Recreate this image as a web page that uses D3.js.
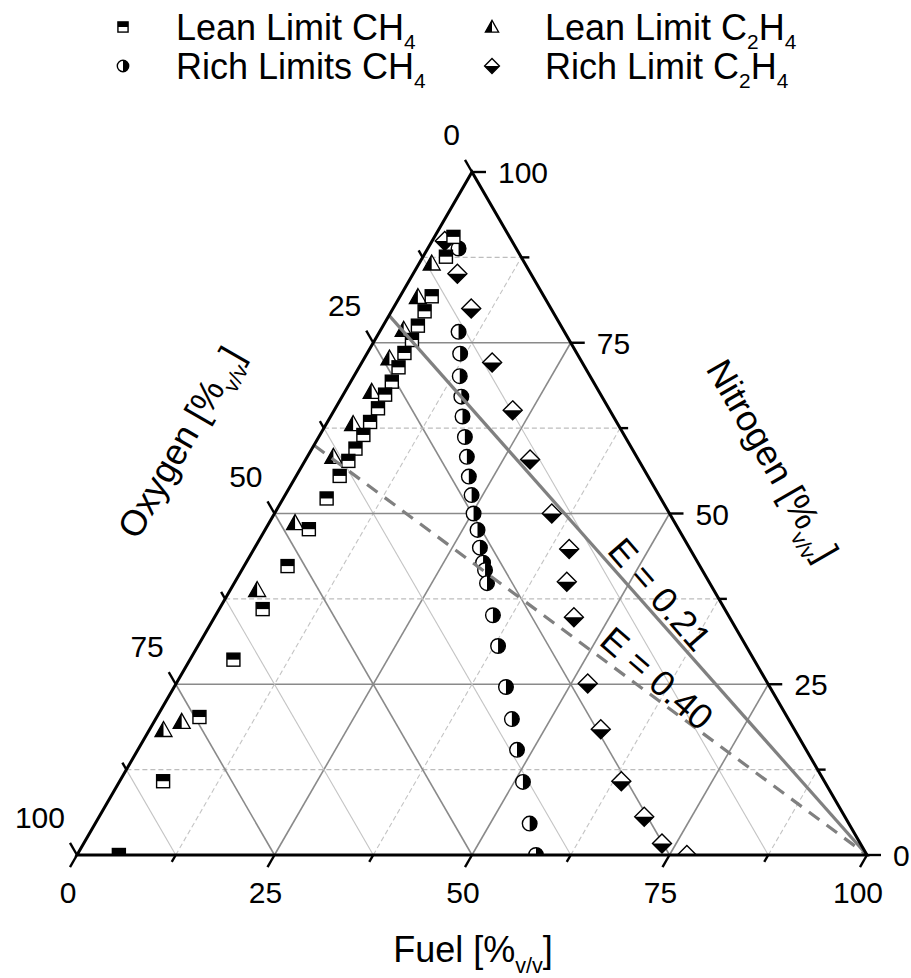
<!DOCTYPE html>
<html>
<head>
<meta charset="utf-8">
<script src="https://cdn.jsdelivr.net/npm/d3@7"></script>
<style>
  html, body { margin: 0; padding: 0; background: #fff; }
  svg { display: block; }
  text { font-family: "Liberation Sans", Arial, sans-serif; fill: #000; }
</style>
</head>
<body>
<svg id="chart" width="911" height="978"></svg>
<script>
// ---------------- data: [fuel, oxygen, nitrogen] in %v/v ----------------
const leanCH4 = [
  [2.4,7.1,90.5],[2.9,9.5,87.6],[4.0,14.2,81.8],[4.2,16.2,79.6],[4.4,18.1,77.5],
  [4.7,19.9,75.4],[4.7,21.8,73.5],[5.0,23.6,71.4],[5.2,25.5,69.3],[5.3,27.3,67.4],
  [5.4,29.2,65.4],[5.4,31.2,63.4],[5.5,33.0,61.5],[5.5,35.0,59.5],[5.5,36.8,57.7],
  [5.5,39.0,55.5],[5.5,42.3,52.2],[5.5,46.8,47.7],[5.5,52.2,42.3],[5.5,58.5,36.0],
  [5.5,65.9,28.6],[5.4,74.4,20.2],[5.5,83.7,10.8],[5.3,94.7,0]
];
const leanC2H4 = [
  [1.6,11.8,86.6],[2.3,16.0,81.7],[2.9,20.2,76.9],[3.2,24.1,72.7],[3.4,28.8,67.8],
  [3.4,33.5,63.1],[3.3,38.4,58.3],[3.3,48.1,48.6],[3.4,57.8,38.8],[3.5,77.0,19.5],
  [1.8,79.9,18.3]
];
const richCH4 = [
  [3.9,7.3,88.8],[10.0,13.4,76.6],[11.8,14.8,73.4],[13.4,16.5,70.1],[15.1,17.8,67.1],
  [16.7,19.1,64.2],[18.5,20.3,61.2],[20.2,21.5,58.3],[21.9,22.7,55.4],[23.6,23.7,52.7],
  [25.2,24.8,50.0],[26.9,25.5,47.6],[28.5,26.5,45.0],[30.0,27.2,42.8],[30.8,27.5,41.7],
  [32.0,28.2,39.8],[35.1,29.8,35.1],[38.0,31.4,30.6],[42.0,33.4,24.6],[45.1,35.0,19.9],
  [48.0,36.6,15.4],[51.1,38.2,10.7],[55.0,40.4,4.6],[58.1,41.9,0]
];
const richC2H4 = [
  [1.6,8.5,89.9],[5.6,9.3,85.1],[9.9,10.1,80.0],[16.5,11.4,72.1],[22.6,12.3,65.1],
  [28.4,13.7,57.9],[35.1,14.9,50.0],[39.9,15.3,44.8],[42.0,18.0,40.0],[45.5,19.7,34.8],
  [52.1,22.8,25.1],[57.1,24.5,18.4],[63.5,25.7,10.8],[69.0,25.4,5.6],[73.2,25.1,1.7],
  [77.2,22.8,0]
];
// equivalence-ratio lines (O2 fraction of the oxidiser)
const eLines = [
  {label: "E = 0.21", e: 0.21},
  {label: "E = 0.40", e: 0.40}
];
const fuelTicks = [0, 25, 50, 75, 100];
const oxygenTicks = [0, 25, 50, 75, 100];
const nitrogenTicks = [0, 25, 50, 75, 100];

// ---------------- scales ----------------
const svg = d3.select("#chart");
const fx = d3.scaleLinear().domain([0, 100]).range([77, 867]);   // fuel along base
const ny = d3.scaleLinear().domain([0, 100]).range([855, 172]);  // nitrogen height
function P(f, n) { return [fx(f) + (fx(n) - fx(0)) / 2, ny(n)]; }
const line = d3.line();

const BL = P(0, 0), BR = P(100, 0), TOP = P(0, 100);

// ---------------- grid ----------------
const gGrid = svg.append("g");
const allGrid = d3.range(12.5, 100, 12.5);
allGrid.forEach(v => {
  const major = v % 25 === 0;
  gGrid.append("path").attr("d", line([P(0, v), P(100 - v, v)]))
    .attr("stroke", major ? "#8a8a8a" : "#bdbdbd").attr("stroke-width", major ? 1.6 : 1.1)
    .attr("stroke-dasharray", major ? null : "5,3").attr("fill", "none");
  gGrid.append("path").attr("d", line([P(v, 0), P(v, 100 - v)]))
    .attr("stroke", major ? "#8a8a8a" : "#c4c4c4").attr("stroke-width", major ? 1.6 : 1.1)
    .attr("stroke-dasharray", major ? null : "5,3").attr("fill", "none");
  gGrid.append("path").attr("d", line([P(100 - v, 0), P(0, 100 - v)]))
    .attr("stroke", major ? "#8a8a8a" : "#c4c4c4").attr("stroke-width", major ? 1.6 : 1.1)
    .attr("fill", "none");
});

// ---------------- markers ----------------
const clip = svg.append("clipPath").attr("id", "clipPlot");
clip.append("rect").attr("x", 0).attr("y", 0).attr("width", 911).attr("height", ny(0));

function drawSquare(g, x, y, k) {
  const s = 6.5 * k;
  g.append("rect").attr("x", x - s).attr("y", y - s).attr("width", 2 * s).attr("height", 2 * s)
    .attr("fill", "#fff").attr("stroke", "#000").attr("stroke-width", 1.4);
  g.append("rect").attr("x", x - s).attr("y", y - s).attr("width", 2 * s).attr("height", s)
    .attr("fill", "#000");
}
function drawTriangle(g, x, y, k) {
  const w = 8.5 * k, t = 8.5 * k, b = 6.5 * k;
  g.append("path").attr("d", `M${x},${y - t}L${x + w},${y + b}L${x - w},${y + b}Z`)
    .attr("fill", "#fff").attr("stroke", "#000").attr("stroke-width", 1.3);
  g.append("path").attr("d", `M${x},${y - t}L${x},${y + b}L${x - w},${y + b}Z`).attr("fill", "#000");
}
function drawCircle(g, x, y, k) {
  const r = 7.3 * k;
  g.append("circle").attr("cx", x).attr("cy", y).attr("r", r)
    .attr("fill", "#fff").attr("stroke", "#000").attr("stroke-width", 1.4);
  g.append("path").attr("d", `M${x},${y - r}A${r},${r} 0 0 1 ${x},${y + r}Z`).attr("fill", "#000");
}
function drawDiamond(g, x, y, k) {
  const h = 9.5 * k;
  g.append("path").attr("d", `M${x},${y - h}L${x + h},${y}L${x},${y + h}L${x - h},${y}Z`)
    .attr("fill", "#fff").attr("stroke", "#000").attr("stroke-width", 1.4);
  g.append("path").attr("d", `M${x - h},${y}L${x + h},${y}L${x},${y + h}Z`).attr("fill", "#000");
}

const gMarks = svg.append("g").attr("clip-path", "url(#clipPlot)");
const seriesList = [
  {data: richCH4, draw: drawCircle},
  {data: richC2H4, draw: drawDiamond},
  {data: leanC2H4, draw: drawTriangle},
  {data: leanCH4, draw: drawSquare}
];
seriesList.forEach(s => {
  s.data.forEach(d => {
    const [x, y] = P(d[0], d[2]);
    s.draw(gMarks, x, y, 1);
  });
});

// ---------------- E lines ----------------
const gE = svg.append("g");
eLines.forEach((L, i) => {
  const start = P(0, 100 * (1 - L.e));
  gE.append("path").attr("d", line([start, BR])).attr("fill", "none")
    .attr("stroke", "#808080").attr("stroke-width", 3.2)
    .attr("stroke-dasharray", i === 0 ? null : "13,9");
});
const eLabelPos = [
  {f: 54.7, n: 38.2, rot: 49},
  {f: 60.5, n: 25.9, rot: 41}
];
const bigFont = 36;
eLines.forEach((L, i) => {
  const [x, y] = P(eLabelPos[i].f, eLabelPos[i].n);
  svg.append("text").attr("transform", `translate(${x},${y}) rotate(${eLabelPos[i].rot})`)
    .attr("text-anchor", "middle").attr("dy", "0.36em").attr("font-size", bigFont).text(L.label);
});

// ---------------- axes ----------------
const gAx = svg.append("g");
gAx.append("path").attr("d", line([BL, BR, TOP]) + "Z").attr("fill", "none")
  .attr("stroke", "#000").attr("stroke-width", 3).attr("stroke-linejoin", "miter");

const tickVals = d3.range(0, 100.01, 12.5);
const c60 = 0.5, s60 = Math.sqrt(3) / 2;
tickVals.forEach(v => {
  const major = v % 25 === 0;
  const len = major ? 14 : 8;
  const pb = P(v, 0);
  gAx.append("path").attr("d", line([pb, [pb[0] - c60 * len, pb[1] + s60 * len]]))
    .attr("stroke", "#000").attr("stroke-width", 2.4);
  const pr = P(100 - v, v);
  gAx.append("path").attr("d", line([pr, [pr[0] + len, pr[1]]]))
    .attr("stroke", "#000").attr("stroke-width", 2.4);
  const pl = P(0, 100 - v);
  gAx.append("path").attr("d", line([pl, [pl[0] - c60 * len, pl[1] - s60 * len]]))
    .attr("stroke", "#000").attr("stroke-width", 2.4);
});

const tickFont = 30;
fuelTicks.forEach(v => {
  const p = P(v, 0);
  svg.append("text").attr("x", p[0] - 9).attr("y", p[1] + 48).attr("text-anchor", "middle")
    .attr("font-size", tickFont).text(v);
});
nitrogenTicks.forEach(v => {
  const p = P(100 - v, v);
  svg.append("text").attr("x", p[0] + 26).attr("y", p[1] + 11).attr("text-anchor", "start")
    .attr("font-size", tickFont).text(v);
});
oxygenTicks.forEach(v => {
  const p = P(0, 100 - v);
  svg.append("text").attr("x", p[0] - 12).attr("y", p[1] - 27).attr("text-anchor", "end")
    .attr("font-size", tickFont).text(v);
});

// ---------------- axis titles ----------------
function titleWithSub(t, main, sub, after, size) {
  t.attr("font-size", size);
  t.append("tspan").text(main);
  t.append("tspan").attr("font-size", size * 0.6).attr("dy", size * 0.3).text(sub);
  t.append("tspan").attr("dy", -size * 0.3).text(after);
}
titleWithSub(svg.append("text").attr("x", 473).attr("y", 962).attr("text-anchor", "middle"),
  "Fuel [%", "v/v", "]", bigFont);
titleWithSub(svg.append("text").attr("transform", "translate(180,442) rotate(-60)")
  .attr("text-anchor", "middle").attr("dy", "0.36em"), "Oxygen [%", "v/v", "]", bigFont);
titleWithSub(svg.append("text").attr("transform", "translate(773,460) rotate(60)")
  .attr("text-anchor", "middle").attr("dy", "0.36em"), "Nitrogen [%", "v/v", "]", bigFont);

// ---------------- legend ----------------
const legendItems = [
  {parts: [["Lean Limit CH", 0], ["4", 1]], draw: drawSquare, x: 123, y: 27},
  {parts: [["Lean Limit C", 0], ["2", 1], ["H", 0], ["4", 1]], draw: drawTriangle, x: 492, y: 27},
  {parts: [["Rich Limits CH", 0], ["4", 1]], draw: drawCircle, x: 123, y: 66},
  {parts: [["Rich Limit C", 0], ["2", 1], ["H", 0], ["4", 1]], draw: drawDiamond, x: 492, y: 66}
];
const gLeg = svg.append("g");
legendItems.forEach(it => {
  it.draw(gLeg, it.x, it.y, 0.78);
  const t = gLeg.append("text").attr("x", it.x + 53).attr("y", it.y + 13).attr("font-size", bigFont);
  let sub = 0;
  it.parts.forEach(([s, isSub]) => {
    const ts = t.append("tspan").text(s);
    if (isSub) {
      ts.attr("font-size", bigFont * 0.58);
      if (!sub) { ts.attr("dy", bigFont * 0.26); sub = 1; }
    } else if (sub) { ts.attr("dy", -bigFont * 0.26); sub = 0; }
  });
});
</script>
</body>
</html>
